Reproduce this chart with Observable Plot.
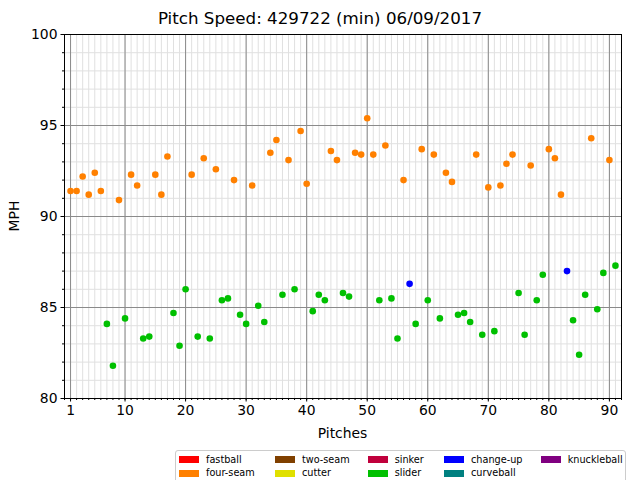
<!DOCTYPE html>
<html>
<head>
<meta charset="utf-8">
<script src="https://cdn.jsdelivr.net/npm/d3@7"></script>
<script src="https://cdn.jsdelivr.net/npm/@observablehq/plot@0.6"></script>
<style>
  html, body { margin: 0; padding: 0; background: white; }
  #wrap { position: relative; width: 640px; height: 480px; overflow: hidden; font-family: "DejaVu Sans", sans-serif; color: black; }
  #wrap svg { position: absolute; left: 0; top: 0; }
  .lbl { position: absolute; white-space: nowrap; line-height: 1; }
  #legend { position: absolute; left: 175px; top: 450px; width: 451px; height: 40px; border: 1px solid #cccccc; border-radius: 3px; background: white; box-sizing: border-box; }
  .item { position: absolute; height: 12px; font-size: 9.7px; line-height: 12px; white-space: nowrap; }
  .patch { position: absolute; left: 0; top: 2.5px; width: 20px; height: 7px; }
  .itxt { position: absolute; left: 27px; top: 0; }
</style>
</head>
<body>
<div id="wrap"></div>
<script>
// ---- data ----
const fourSeamPitch = [1,2,3,4,5,6,9,11,12,15,16,17,21,23,25,28,31,34,35,37,39,40,44,45,48,49,50,51,53,56,59,61,63,64,68,70,72,73,74,77,80,81,82,87,90];
const fourSeamMph   = [91.4,91.4,92.2,91.2,92.4,91.4,90.9,92.3,91.7,92.3,91.2,93.3,92.3,93.2,92.6,92.0,91.7,93.5,94.2,93.1,94.7,91.8,93.6,93.1,93.5,93.4,95.4,93.4,93.9,92.0,93.7,93.4,92.4,91.9,93.4,91.6,91.7,92.9,93.4,92.8,93.7,93.2,91.2,94.3,93.1];
const sliderPitch = [7,8,10,13,14,18,19,20,22,24,26,27,29,30,32,33,36,38,41,42,43,46,47,52,54,55,58,60,62,65,66,67,69,71,75,76,78,79,84,85,86,88,89,91];
const sliderMph   = [84.1,81.8,84.4,83.3,83.4,84.7,82.9,86.0,83.4,83.3,85.4,85.5,84.6,84.1,85.1,84.2,85.7,86.0,84.8,85.7,85.4,85.8,85.6,85.4,85.5,83.3,84.1,85.4,84.4,84.6,84.7,84.2,83.5,83.7,85.8,83.5,85.4,86.8,84.3,82.4,85.7,84.9,86.9,87.3];
const changeUpPitch = [57,83];
const changeUpMph   = [86.3,87.0];

const pitchTypes  = ["fastball","four-seam","two-seam","cutter","sinker","slider","change-up","curveball","knuckleball"];
const pitchColors = ["#ff0000","#ff8000","#804000","#e0e000","#c0003c","#00c000","#0000ff","#008080","#800080"];
const color = t => pitchColors[pitchTypes.indexOf(t)];

const xMajorTicks = [1,10,20,30,40,50,60,70,80,90];
const yMajorTicks = [80,85,90,95,100];
const xMinorTicks = d3.range(0, 93);
const yMinorTicks = d3.range(80, 101);

const rows = [
  ...fourSeamPitch.map((p, i) => ({pitch: p, mph: fourSeamMph[i], type: "four-seam"})),
  ...sliderPitch.map((p, i) => ({pitch: p, mph: sliderMph[i], type: "slider"})),
  ...changeUpPitch.map((p, i) => ({pitch: p, mph: changeUpMph[i], type: "change-up"}))
];

const chart = Plot.plot({
  width: 640,
  height: 480,
  marginTop: 34,
  marginBottom: 82,
  marginLeft: 64,
  marginRight: 19,
  x: {domain: [0, 92]},
  y: {domain: [80, 100]},
  style: {fontFamily: "DejaVu Sans", fontSize: "13.9px", background: "white", color: "black"},
  marks: [
    Plot.ruleX(xMinorTicks, {stroke: "#e0e0e0", strokeWidth: 1}),
    Plot.ruleY(yMinorTicks, {stroke: "#e0e0e0", strokeWidth: 1}),
    Plot.ruleX(xMajorTicks, {stroke: "#8a8a8a", strokeWidth: 1}),
    Plot.ruleY(yMajorTicks, {stroke: "#8a8a8a", strokeWidth: 1}),
    Plot.axisX({ticks: xMinorTicks, tickSize: 2, tickFormat: () => "", label: null, stroke: "black"}),
    Plot.axisY({ticks: yMinorTicks, tickSize: 2, tickFormat: () => "", label: null, stroke: "black"}),
    Plot.axisX({ticks: xMajorTicks, tickSize: 3.5, tickPadding: 3.5, label: null, fontSize: 13.9, fill: "black", stroke: "black"}),
    Plot.axisY({ticks: yMajorTicks, tickSize: 3.5, tickPadding: 3.5, label: null, fontSize: 13.9, fill: "black", stroke: "black"}),
    Plot.frame({stroke: "black", strokeWidth: 1}),
    Plot.dot(rows, {x: "pitch", y: "mph", r: 3.3, fill: d => color(d.type), stroke: "none"})
  ]
});

const wrap = document.getElementById("wrap");
wrap.appendChild(chart);

function addLabel(text, css) {
  const d = document.createElement("div");
  d.className = "lbl";
  d.textContent = text;
  Object.assign(d.style, css);
  wrap.appendChild(d);
  return d;
}
addLabel("Pitch Speed: 429722 (min) 06/09/2017", {left: "320px", top: "10px", fontSize: "16.7px", transform: "translateX(-50%)"});
addLabel("Pitches", {left: "342.5px", top: "427px", fontSize: "13.9px", transform: "translateX(-50%)"});
addLabel("MPH", {left: "15px", top: "216px", fontSize: "13.9px", transform: "translate(-50%,-50%) rotate(-90deg)"});

// legend (matplotlib-style, 5 columns, column-major order)
const legend = document.createElement("div");
legend.id = "legend";
wrap.appendChild(legend);
const colLeft = [3, 99, 191.7, 268, 364.7];
const rowTop = [2.5, 16];
pitchTypes.forEach((t, i) => {
  const col = Math.floor(i / 2), row = i % 2;
  const it = document.createElement("div");
  it.className = "item";
  it.style.left = colLeft[col] + "px";
  it.style.top = rowTop[row] + "px";
  const p = document.createElement("div");
  p.className = "patch";
  p.style.background = color(t);
  const s = document.createElement("div");
  s.className = "itxt";
  s.textContent = t;
  it.appendChild(p);
  it.appendChild(s);
  legend.appendChild(it);
});
</script>
</body>
</html>
